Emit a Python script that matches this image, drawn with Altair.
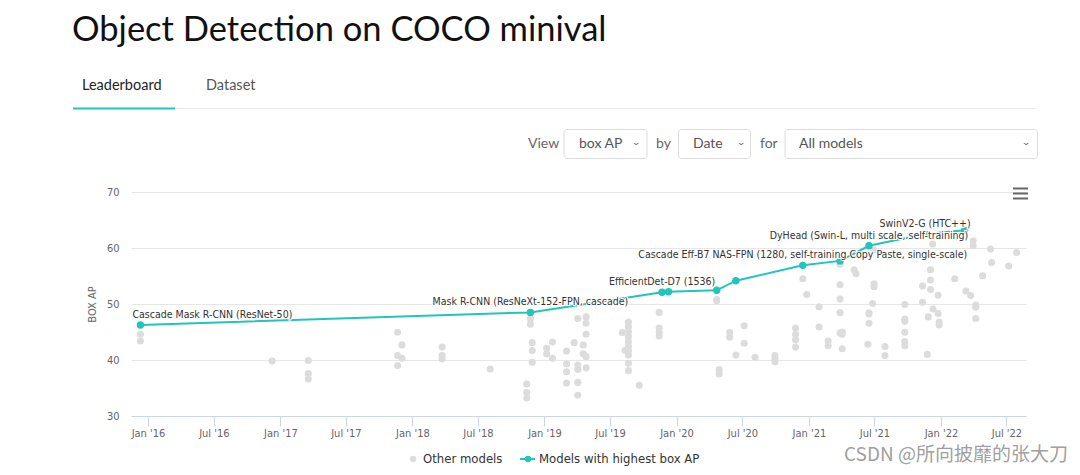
import altair as alt
import pandas as pd

# ---------------- data ----------------
sota_dates = ["2015-12-11", "2018-11-23", "2019-11-22", "2019-12-10", "2020-04-21",
              "2020-06-13", "2020-12-15", "2021-03-28", "2021-06-16", "2021-11-18",
              "2022-03-07"]
sota_values = [46.25, 48.5, 52.1, 52.2, 52.45, 54.16, 56.9, 57.7, 60.4, 62.5, 63.15]
sota_labels = ["Cascade Mask R-CNN (ResNet-50)", "Mask R-CNN (ResNeXt-152-FPN, cascade)",
               "EfficientDet-D7 (1536)", "", "", "",
               "Cascade Eff-B7 NAS-FPN (1280, self-training Copy Paste, single-scale)", "",
               "DyHead (Swin-L, multi scale, self-training)", "SwinV2-G (HTC++)", ""]

other_dates = (
    ["2015-12-11"] * 2 + ["2016-12-09"] + ["2017-03-19"] * 3 + ["2017-11-21"] * 3
    + ["2017-12-03"] * 2 + ["2018-03-24"] * 3 + ["2018-08-04"] + ["2018-11-13"] * 3
    + ["2018-11-23"] * 2 + ["2018-11-28"] * 3 + ["2019-01-07"] * 2 + ["2019-01-23"] * 2
    + ["2019-03-03"] * 4 + ["2019-03-24"] + ["2019-04-03"] * 5 + ["2019-04-18"] * 2
    + ["2019-04-26"] * 5 + ["2019-08-04"] + ["2019-08-12"] + ["2019-08-21"] * 10
    + ["2019-09-20"] + ["2019-11-14"] * 4 + ["2020-04-21"] * 2 + ["2020-04-28"] * 2
    + ["2020-05-27"] * 2 + ["2020-06-13"] + ["2020-07-06"] * 2 + ["2020-08-05"]
    + ["2020-09-29"] * 3 + ["2020-11-25"] * 4 + ["2020-12-15"] + ["2020-12-26"]
    + ["2021-01-29"] * 2 + ["2021-02-23"] * 2 + ["2021-03-28"] * 5 + ["2021-04-03"] * 3
    + ["2021-05-06"] + ["2021-05-11"] + ["2021-06-13"] + ["2021-06-16"] * 3
    + ["2021-06-26"] + ["2021-06-30"] * 3 + ["2021-07-30"] * 2 + ["2021-09-23"] * 6
    + ["2021-11-11"] * 2 + ["2021-11-24"] + ["2021-11-27"] + ["2021-12-03"] * 3
    + ["2021-12-09"] + ["2021-12-10"] + ["2021-12-24"] * 2 + ["2021-12-27"] * 2
    + ["2022-02-08"] + ["2022-03-11"] + ["2022-03-24"] + ["2022-03-31"] * 2
    + ["2022-04-07"] * 3 + ["2022-04-26"] + ["2022-05-18"] + ["2022-05-21"]
    + ["2022-07-07"] + ["2022-07-29"]
)
other_values = (
    [44.6, 43.4] + [39.8] + [39.9, 37.6, 36.6] + [44.95, 40.8, 39.0]
    + [42.7, 40.3] + [42.3, 40.8, 40.2] + [38.4] + [35.7, 34.2, 33.2]
    + [47.4, 46.4] + [43.1, 41.7, 39.6] + [42.1, 41.1] + [43.2, 40.3]
    + [41.6, 39.3, 37.9, 35.9] + [43.1] + [47.4, 39.1, 38.3, 36.0, 33.7] + [42.7, 41.1]
    + [47.7, 46.55, 44.6, 40.6, 38.6] + [44.9] + [41.7]
    + [46.8, 45.95, 45.05, 44.2, 43.3, 42.4, 41.7, 40.9, 39.4, 38.1]
    + [35.5] + [48.5, 45.7, 44.9, 44.3] + [50.8, 50.6] + [38.3, 37.5]
    + [44.9, 44.05] + [40.9] + [46.1, 43.0] + [40.5]
    + [40.8, 40.2, 39.7] + [45.7, 44.6, 43.6, 42.3] + [54.5] + [51.7]
    + [49.5, 45.9] + [43.4, 42.55] + [57.1, 53.45, 50.9, 48.45, 44.8] + [45.0, 44.6, 42.0]
    + [56.1] + [55.4] + [42.8] + [46.55, 48.45, 48.2]
    + [50.1] + [53.6, 53.1, 59.6] + [42.4, 40.8] + [49.9, 47.3, 46.9, 44.95, 43.3, 42.55]
    + [53.2, 50.3] + [41.0] + [47.7] + [56.1, 54.3, 52.6]
    + [60.7] + [49.1] + [51.55, 48.3] + [46.8, 46.25]
    + [54.5] + [52.3] + [51.5] + [61.25, 60.4]
    + [49.8, 49.4, 47.4] + [55.05] + [59.8] + [57.4]
    + [56.8] + [59.2]
)

y_ticks = [30, 40, 50, 60, 70]
x_tick_months = [(y, m) for y in range(2016, 2023) for m in (1, 7)]

# ---------------- style ----------------
TEAL = "#21c5b9"
GRAY = "#dcdcdc"
FONT = "DejaVu Sans Condensed, DejaVu Sans"
UIFONT = "Lato"

W, H = 895, 224
L, T = 131, 192  # plot origin on the page


def vx(x):
    return alt.value(x - L)


def vy(y):
    return alt.value(y - T)


dummy = alt.Data(values=[{"k": 1}])

sota_df = pd.DataFrame({"date": sota_dates, "value": sota_values, "label": sota_labels})
other_df = pd.DataFrame({"date": other_dates, "value": other_values})

xscale = alt.Scale(
    type="utc",
    domain=[alt.DateTime(year=2015, month=11, date=15, utc=True),
            alt.DateTime(year=2022, month=8, date=24, utc=True)],
)
yscale = alt.Scale(domain=[30, 70], nice=False, zero=False)

xenc = alt.X(
    "date:T", scale=xscale, title=None,
    axis=alt.Axis(
        values=[alt.DateTime(year=y, month=m, date=1, utc=True) for y, m in x_tick_months],
        format="%b '%y", labelFont=FONT, labelFontSize=11, labelColor="#666666",
        tickColor="#ccd6eb", tickSize=10, domainColor="#ccd6eb", domainWidth=1,
        labelPadding=1, grid=False, labelFlush=False, labelOverlap=False,
    ),
)
yenc = alt.Y(
    "value:Q", scale=yscale, title="BOX AP",
    axis=alt.Axis(
        values=y_ticks, labelFont=FONT, labelFontSize=11, labelColor="#666666",
        ticks=False, domain=False, labelPadding=12, gridColor="#e6e6e6",
        titleFont=FONT, titleFontSize=11, titleColor="#666666", titleFontWeight="normal",
        titleX=-39, titleY=H / 2, titleAngle=270, titleAlign="center", titleBaseline="middle",
    ),
)

others = alt.Chart(other_df).mark_circle(size=50, color=GRAY, opacity=1).encode(x=xenc, y=yenc)
line = alt.Chart(sota_df).mark_line(color=TEAL, strokeWidth=2).encode(x=xenc, y=yenc)
dots = alt.Chart(sota_df).mark_circle(size=55, color=TEAL, opacity=1).encode(x=xenc, y=yenc)

lab_first = sota_df.iloc[[0]]
lab_rest = sota_df.iloc[1:]
lab_rest = lab_rest[lab_rest["label"] != ""]


def label_layers(df, align, dx):
    base = alt.Chart(df).encode(x=xenc, y=yenc, text="label:N")
    outline = base.mark_text(align=align, dx=dx, dy=-10, baseline="middle", font=FONT,
                             fontSize=10.5, fill="white", stroke="white", strokeWidth=2)
    fill = base.mark_text(align=align, dx=dx, dy=-10, baseline="middle", font=FONT,
                          fontSize=10.5, color="#333333")
    return [outline, fill]


labels = label_layers(lab_first, "left", -8) + label_layers(lab_rest, "center", 0)


def txt(s, x, y, size, color, font=UIFONT, align="left", weight="normal", angle=0):
    return alt.Chart(dummy).mark_text(
        text=s, align=align, baseline="middle", fontSize=size, color=color,
        font=font, fontWeight=weight, angle=angle,
    ).encode(x=vx(x), y=vy(y))


def box(x1, x2, y1, y2):
    return alt.Chart(dummy).mark_rect(
        fill="white", stroke="#dcdcdc", strokeWidth=1, cornerRadius=3
    ).encode(x=vx(x1), x2=vx(x2), y=vy(y1), y2=vy(y2))


def hline(x1, x2, y, color, width):
    return alt.Chart(dummy).mark_rule(color=color, strokeWidth=width).encode(
        x=vx(x1), x2=vx(x2), y=vy(y))


deco = [
    txt("Object Detection on COCO minival", 72, 31, 34.5, "#111111"),
    txt("Leaderboard", 82, 86, 14.5, "#222222"),
    txt("Dataset", 206, 86, 14.5, "#555555"),
    hline(73, 1035, 108.5, "#e8e8e8", 1),
    hline(73, 175, 108.5, TEAL, 2),
    txt("View", 528, 144, 14, "#666666"),
    box(564, 647, 129.5, 158.5),
    txt("box AP", 579, 144, 14, "#555555"),
    txt("›", 637, 144, 12, "#555555", align="center", angle=90),
    txt("by", 656, 144, 14, "#666666"),
    box(678.5, 750.5, 129.5, 158.5),
    txt("Date", 693, 144, 14, "#555555"),
    txt("›", 742, 144, 12, "#555555", align="center", angle=90),
    txt("for", 760, 144, 14, "#666666"),
    box(785, 1037.5, 129.5, 158.5),
    txt("All models", 799, 144, 14, "#555555"),
    txt("›", 1027, 144, 12, "#555555", align="center", angle=90),
    hline(1013, 1028, 188.5, "#666666", 2),
    hline(1013, 1028, 193.5, "#666666", 2),
    hline(1013, 1028, 198.5, "#666666", 2),
    # legend
    alt.Chart(dummy).mark_circle(size=40, color=GRAY, opacity=1).encode(x=vx(413), y=vy(459)),
    txt("Other models", 423, 459, 13, "#333333", font=FONT),
    hline(520, 535, 459, TEAL, 2),
    alt.Chart(dummy).mark_circle(size=40, color=TEAL, opacity=1).encode(x=vx(528), y=vy(459)),
    txt("Models with highest box AP", 539, 459, 13, "#333333", font=FONT),
    # watermark
    txt("CSDN @所向披靡的张大刀", 1068, 455, 19, "#a0a0a0", font="Noto Sans CJK SC", align="right"),
]

chart = alt.layer(
    others, line, dots, *labels, *deco
).properties(
    width=W, height=H,
    padding={"left": 123, "top": 184, "right": 44, "bottom": 50},
    autosize=alt.AutoSizeParams(type="none"),
    background="white",
).configure_view(stroke=None)

chart.save("out.html", embed_options={"renderer": "svg", "actions": False})
